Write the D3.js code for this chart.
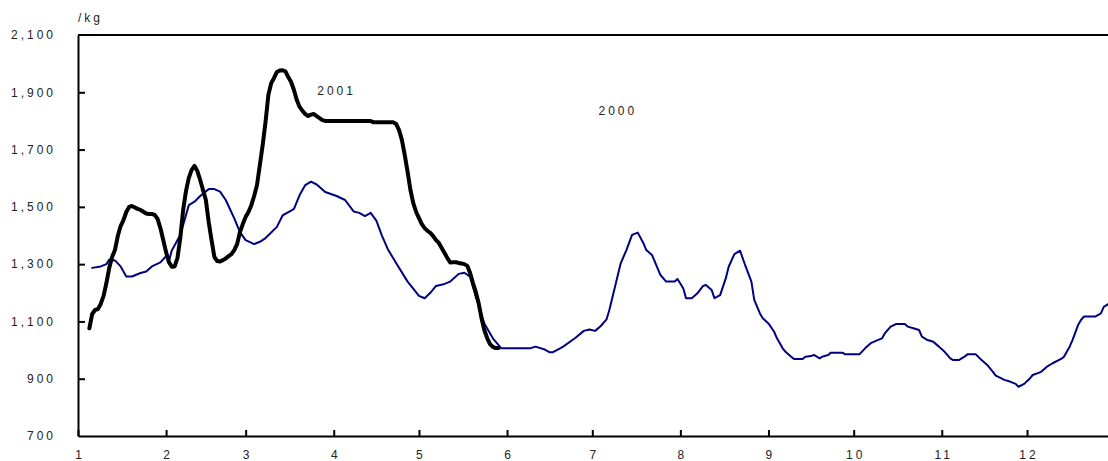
<!DOCTYPE html>
<html>
<head>
<meta charset="utf-8">
<script src="https://cdn.jsdelivr.net/npm/d3@7"></script>
<style>
  body { margin: 0; background: #fff; }
  #chart text {
    font-family: Arial, "Liberation Sans", sans-serif;
    font-size: 12px;
    fill: #222;
    letter-spacing: 3px;
  }
</style>
</head>
<body>
<div id="chart"></div>
<script>
// Day of year (0 = Jan 1) where each month starts, and the labels under them.
var monthStarts = [0, 31, 59, 90, 120, 151, 181, 212, 243, 273, 304, 334];
var monthLabels = ['1', '2', '3', '4', '5', '6', '7', '8', '9', '10', '11', '12'];
var yTicks = [700, 900, 1100, 1300, 1500, 1700, 1900, 2100];
var unitLabel = '/kg';

// 2000 season (thin navy line).
var days2000 = [5, 8, 10, 11, 13, 15, 17, 19, 22, 24, 26, 29, 31, 32, 33, 36, 39,
  41, 43, 46, 48, 50, 52, 55, 57, 59, 62, 64, 66, 70, 72, 75, 76, 78, 80, 82, 84,
  87, 91, 94, 97, 99, 101, 103, 105, 107, 109, 112, 116, 117, 120, 122, 124, 126,
  129, 131, 134, 136, 138, 140, 143, 146, 149, 159, 161, 164, 166, 167, 170, 171,
  175, 178, 180, 182, 184, 186, 187, 189, 191, 193, 195, 197, 199, 200, 202, 205,
  207, 210, 211, 213, 214, 216, 218, 220, 221, 223, 224, 226, 228, 229, 231, 233,
  235, 237, 238, 240, 241, 243, 245, 246, 248, 249, 251, 252, 255, 256, 258, 259,
  261, 262, 264, 265, 269, 270, 275, 277, 279, 281, 283, 284, 286, 288, 291, 292,
  294, 296, 297, 299, 301, 303, 305, 307, 308, 310, 312, 313, 316, 318, 320, 322,
  323, 325, 326, 328, 330, 331, 333, 335, 336, 339, 341, 343, 346, 347, 349, 350,
  352, 353, 354, 358, 360, 361, 363];
var price2000 = [1287, 1292, 1300, 1316, 1313, 1292, 1257, 1257, 1269, 1274, 1292,
  1306, 1328, 1310, 1348, 1402, 1506, 1518, 1538, 1562, 1562, 1553, 1524, 1460,
  1412, 1384, 1370, 1378, 1391, 1430, 1470, 1487, 1493, 1541, 1576, 1588, 1578,
  1552, 1538, 1524, 1484, 1479, 1468, 1479, 1452, 1399, 1353, 1303, 1239, 1227,
  1189, 1181, 1200, 1224, 1231, 1239, 1266, 1270, 1256, 1186, 1093, 1041, 1006,
  1006, 1012, 1003, 992, 992, 1008, 1014, 1042, 1067, 1072, 1067, 1084, 1107, 1140,
  1221, 1303, 1349, 1402, 1410, 1373, 1349, 1332, 1262, 1239, 1239, 1248, 1216,
  1181, 1181, 1198, 1224, 1227, 1210, 1181, 1192, 1251, 1291, 1335, 1347, 1291,
  1239, 1175, 1128, 1111, 1093, 1064, 1041, 1006, 994, 977, 969, 969, 977, 979,
  983, 971, 977, 983, 991, 991, 985, 985, 1006, 1024, 1033, 1041, 1059, 1082, 1091,
  1091, 1082, 1076, 1070, 1047, 1035, 1029, 1012, 994, 971, 965, 965, 977, 985,
  985, 965, 948, 924, 911, 901, 896, 890, 882, 872, 882, 901, 913, 924, 942, 954,
  969, 977, 1012, 1035, 1088, 1105, 1117, 1117, 1128, 1151, 1163];

// 2001 season (thick black line), January to early June.
var days2001 = [4, 5, 6, 7, 8, 9, 10, 11, 12, 13, 14, 15, 16, 17, 18, 19, 20, 21,
  22, 23, 24, 25, 26, 27, 28, 29, 30, 31, 32, 33, 34, 35, 36, 37, 38, 39, 40, 41,
  42, 43, 44, 45, 46, 47, 48, 49, 50, 51, 52, 53, 54, 55, 56, 57, 58, 59, 60, 61,
  62, 63, 64, 65, 66, 67, 68, 69, 70, 71, 72, 73, 74, 75, 76, 77, 78, 79, 80, 81,
  82, 83, 84, 85, 86, 87, 103, 104, 111, 112, 113, 114, 115, 116, 117, 118, 119,
  120, 121, 122, 123, 124, 125, 126, 127, 128, 129, 130, 131, 132, 133, 134, 135,
  136, 137, 138, 139, 140, 141, 142, 143, 144, 145, 146, 147, 148];
var price2001 = [1076, 1126, 1140, 1143, 1161, 1189, 1234, 1287, 1325, 1349, 1398,
  1433, 1454, 1482, 1500, 1503, 1498, 1493, 1489, 1483, 1477, 1475, 1475, 1472,
  1458, 1426, 1384, 1342, 1307, 1291, 1292, 1321, 1391, 1489, 1555, 1601, 1629,
  1643, 1625, 1594, 1559, 1524, 1447, 1384, 1325, 1311, 1309, 1314, 1320, 1328,
  1335, 1349, 1370, 1412, 1440, 1465, 1482, 1506, 1538, 1576, 1646, 1716, 1796,
  1891, 1932, 1950, 1971, 1976, 1977, 1973, 1953, 1936, 1908, 1873, 1849, 1835,
  1824, 1817, 1822, 1824, 1817, 1810, 1803, 1800, 1800, 1795, 1795, 1789, 1768,
  1733, 1681, 1622, 1559, 1513, 1482, 1461, 1440, 1426, 1416, 1409, 1398, 1384,
  1374, 1356, 1339, 1321, 1306, 1307, 1307, 1304, 1302, 1300, 1294, 1269, 1234,
  1203, 1164, 1112, 1070, 1042, 1021, 1011, 1007, 1007];

(function() {
var PriceChart = function(divId) {
  this.divId = divId;
  this.width = 1108;
  this.height = 461;
  this.x = d3.scaleLinear().domain([0, 362.5]).range([78, 1108]);
  this.y = d3.scaleLinear().domain([700, 2100]).range([436, 35]);
};

PriceChart.prototype = {
  draw: function() {
    d3.select('#' + this.divId).selectAll('svg').remove();
    var x = this.x, y = this.y,
        svg = d3.select('#' + this.divId).append('svg')
            .attr('width', this.width)
            .attr('height', this.height);

    this.drawSeries(svg, days2000, price2000, '#000080', 2);
    this.drawSeries(svg, days2001, price2001, '#000', 4);
    this.drawAxes(svg);

    // Series captions sit in the empty space above the lines.
    svg.append('text')
        .attr('x', x(91)).attr('y', y(1905)).attr('dy', '0.35em')
        .attr('text-anchor', 'middle')
        .text('2001');
    svg.append('text')
        .attr('x', x(190)).attr('y', y(1835)).attr('dy', '0.35em')
        .attr('text-anchor', 'middle')
        .text('2000');

    svg.append('text')
        .attr('x', x(0)).attr('y', 22)
        .text(unitLabel);
    return this;
  },

  drawSeries: function(svg, days, prices, color, width) {
    var x = this.x, y = this.y;
    var line = d3.line()
        .x(function(i) { return x(days[i]); })
        .y(function(i) { return y(prices[i]); });
    svg.append('path')
        .datum(d3.range(days.length))
        .attr('d', line)
        .attr('fill', 'none')
        .attr('stroke', color)
        .attr('stroke-width', width)
        .attr('stroke-linejoin', 'round')
        .attr('stroke-linecap', 'round');
  },

  drawAxes: function(svg) {
    var x = this.x, y = this.y;

    // Ticks point into the plot, so use negative tick sizes.
    var xAxis = d3.axisBottom(x)
        .tickValues(monthStarts)
        .tickSizeInner(-6).tickSizeOuter(0)
        .tickPadding(14)
        .tickFormat(function(d, i) { return monthLabels[i]; });
    var yAxis = d3.axisLeft(y)
        .tickValues(yTicks)
        .tickSizeInner(-7).tickSizeOuter(0)
        .tickPadding(22)
        .tickFormat(d3.format(','));

    var gx = svg.append('g')
        .attr('transform', 'translate(0,' + y(700) + ')')
        .call(xAxis);
    var gy = svg.append('g')
        .attr('transform', 'translate(' + x(0) + ',0)')
        .call(yAxis);

    [gx, gy].forEach(function(g) {
      g.select('.domain').attr('stroke', '#000').attr('stroke-width', 2);
      g.selectAll('.tick line').attr('stroke', '#000').attr('stroke-width', 2);
      g.selectAll('text').attr('font-family', null).attr('font-size', null)
          .attr('fill', null);
    });
    gx.selectAll('.tick text').attr('dx', '1.5px');
    gy.selectAll('.tick line').filter(function(d) { return d === 700 || d === 2100; })
        .remove();

    // Top frame line at the 2,100 level.
    svg.append('line')
        .attr('x1', x(0)).attr('x2', this.width)
        .attr('y1', y(2100)).attr('y2', y(2100))
        .attr('stroke', '#000')
        .attr('stroke-width', 2);
  }
};

new PriceChart('chart').draw();
})();
</script>
</body>
</html>
